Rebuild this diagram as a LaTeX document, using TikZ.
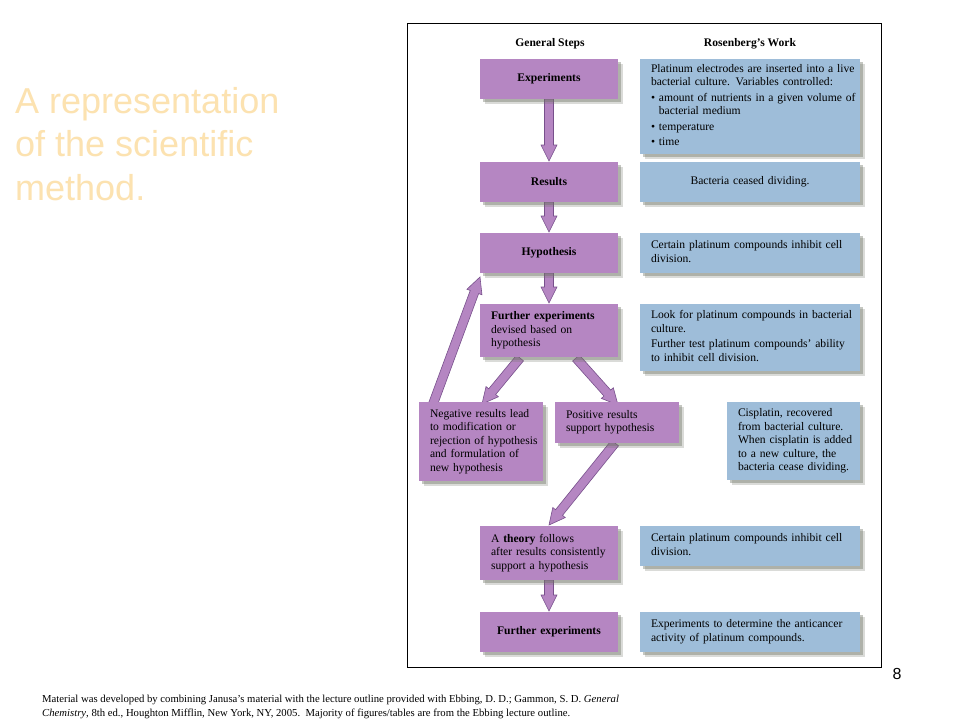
\documentclass[tikz,border=0pt]{standalone}
\usepackage{fontspec}
\setmainfont{Liberation Serif}
\newfontfamily\arialf{Liberation Sans}
\usetikzlibrary{calc,shadows}
\definecolor{purp}{RGB}{181,134,194}
\definecolor{purpdark}{RGB}{120,80,140}
\definecolor{bluebox}{RGB}{158,189,217}
\definecolor{titlecol}{RGB}{252,226,176}
\definecolor{shadowcol}{RGB}{110,115,100}
\newcommand\boxlines[1]{\begin{tabular}{@{}l@{}}#1\end{tabular}}
\newcommand\barrow[2]{%
  \coordinate (bA) at (#1);
  \coordinate (bB) at (#2);
  \coordinate (bH) at ($(bB)!16pt!(bA)$);
  \filldraw[arrowsty] ($(bA)!4.5pt!90:(bB)$) -- ($(bH)!4.5pt!90:(bB)$) -- ($(bH)!8pt!90:(bB)$) -- (bB)
    -- ($(bH)!8pt!-90:(bB)$) -- ($(bH)!4.5pt!-90:(bB)$) -- ($(bA)!4.5pt!-90:(bB)$) -- cycle;}
\tikzset{
  boxbase/.style={inner xsep=11pt, inner ysep=0pt, font=\fontsize{11.6}{13.5}\selectfont,
    drop shadow={shadow xshift=5pt, shadow yshift=-5pt, fill=shadowcol, opacity=.25},
    drop shadow={shadow xshift=3pt, shadow yshift=-3pt, fill=shadowcol, opacity=.4}},
  pbox/.style={boxbase, fill=purp},
  bbox/.style={boxbase, fill=bluebox},
  arrowsty/.style={fill=purp, draw=purpdark, line width=0.6pt, line join=miter},
  head/.style={font=\bfseries\fontsize{11.6}{13.5}\selectfont, inner sep=0pt}
}
\begin{document}
\begin{tikzpicture}[x=1pt, y=-1pt]
\useasboundingbox (0,0) rectangle (960,720);
\fill[white] (0,0) rectangle (960,720);

% title
\node[anchor=north west, inner sep=0pt, align=left, text=titlecol,
      font=\arialf\fontsize{36}{43.5}\selectfont] (title) at (15,87)
  {A representation\\of the scientific\\method.};

% frame
\draw[line width=0.8pt] (407,23) rectangle (881,667);

% headers
\node[head, anchor=base] (h1) at (550,46) {General Steps};
\node[head, anchor=base] (h2) at (750,46) {Rosenberg’s Work};

% coordinates for arrow ends
\coordinate (c1) at (520,358);
\coordinate (c2) at (576,358);
\coordinate (c3) at (433,404);
\coordinate (c4) at (480,277);
\coordinate (c5) at (615,443);

% arrows (behind boxes)
\barrow{549,99}{549,161}
\barrow{549,202}{549,232}
\barrow{549,273}{549,303}
\barrow{c1}{482,404}
\barrow{c2}{618,405}
\barrow{c3}{c4}
\barrow{c5}{549,525}
\barrow{549,580}{549,611}

% purple boxes
\node[pbox, text width=116pt, minimum height=40pt, align=center, font=\bfseries\fontsize{11.6}{13.5}\selectfont] (exp) at (549,79) {Experiments};
\node[pbox, text width=116pt, minimum height=40pt, align=center, font=\bfseries\fontsize{11.6}{13.5}\selectfont] (res) at (549,182) {Results};
\node[pbox, text width=116pt, minimum height=40pt, align=center, font=\bfseries\fontsize{11.6}{13.5}\selectfont] (hyp) at (549,253) {Hypothesis};
\node[pbox, text width=116pt, minimum height=53pt, align=left] (fexp) at (549,330.5)
  {\boxlines{\textbf{Further experiments}\\devised based on\\hypothesis}};
\node[pbox, text width=102pt, minimum height=79pt, align=left] (neg) at (481,441.5)
  {\boxlines{Negative results lead\\to modification or\\rejection of hypothesis\\and formulation of\\new hypothesis}};
\node[pbox, text width=102pt, minimum height=41pt, align=left] (pos) at (617,422.5)
  {\boxlines{Positive results\\support hypothesis}};
\node[pbox, text width=116pt, minimum height=54pt, align=left] (theory) at (549,553)
  {\boxlines{A \textbf{theory} follows\\after results consistently\\support a hypothesis}};
\node[pbox, text width=116pt, minimum height=40pt, align=center, font=\bfseries\fontsize{11.6}{13.5}\selectfont] (fexp2) at (549,632) {Further experiments};

% blue boxes
\node[bbox, text width=198pt, minimum height=95pt, align=left] (b1) at (750,106.5)
  {\boxlines{Platinum electrodes are inserted into a live\\bacterial culture. Variables controlled:\\[2pt]
   \textbullet\ amount of nutrients in a given volume of\\\phantom{\textbullet\ }bacterial medium\\[2pt]
   \textbullet\ temperature\\[2pt]\textbullet\ time}};
\node[bbox, text width=198pt, minimum height=40pt, align=center] (b2) at (750,182) {Bacteria ceased dividing.};
\node[bbox, text width=198pt, minimum height=40pt, align=left] (b3) at (750,253)
  {\boxlines{Certain platinum compounds inhibit cell\\division.}};
\node[bbox, text width=198pt, minimum height=67pt, align=left] (b4) at (750,337.5)
  {\boxlines{Look for platinum compounds in bacterial\\culture.\\[2pt]Further test platinum compounds’ ability\\to inhibit cell division.}};
\node[bbox, text width=111pt, minimum height=78pt, align=left] (b5) at (793.5,441)
  {\boxlines{Cisplatin, recovered\\from bacterial culture.\\When cisplatin is added\\to a new culture, the\\bacteria cease dividing.}};
\node[bbox, text width=198pt, minimum height=40pt, align=left] (b6) at (750,546)
  {\boxlines{Certain platinum compounds inhibit cell\\division.}};
\node[bbox, text width=198pt, minimum height=40pt, align=left] (b7) at (750,632)
  {\boxlines{Experiments to determine the anticancer\\activity of platinum compounds.}};

% page number
\node[anchor=base, inner sep=0pt, font=\arialf\fontsize{16}{19}\selectfont] (pnum) at (897,679) {8};

% footer
\node[anchor=north west, inner sep=0pt, align=left, font=\fontsize{10.7}{14}\selectfont] (foot) at (42,694.5)
  {Material was developed by combining Janusa’s material with the lecture outline provided with Ebbing, D. D.; Gammon, S. D. \textit{General}\\
   \textit{Chemistry}, 8th ed., Houghton Mifflin, New York, NY, 2005.\ \ Majority of figures/tables are from the Ebbing lecture outline.};
\end{tikzpicture}
\end{document}
